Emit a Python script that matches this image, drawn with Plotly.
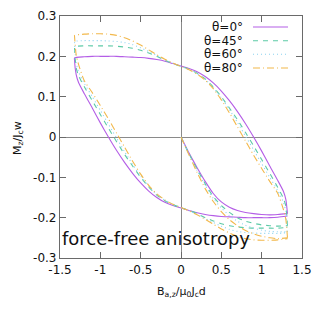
import plotly.graph_objects as go

# ---- data ----
labels = ["θ=0°", "θ=45°", "θ=60°", "θ=80°"]

# initial (virgin) curves, B from 0 to 1.32
init_B = [0, 0.1, 0.2, 0.3, 0.4, 0.5, 0.6, 0.7, 0.8, 0.9, 1.0, 1.1, 1.2, 1.32]
init_M0 = [0, -0.040, -0.076, -0.110, -0.140, -0.161, -0.174, -0.182, -0.187, -0.190, -0.192, -0.193, -0.192, -0.190]
init_M45 = [0, -0.042, -0.080, -0.116, -0.148, -0.170, -0.187, -0.200, -0.209, -0.214, -0.218, -0.220, -0.221, -0.220]
init_M60 = [0, -0.043, -0.083, -0.120, -0.152, -0.176, -0.195, -0.209, -0.219, -0.226, -0.231, -0.234, -0.235, -0.235]
init_M80 = [0, -0.045, -0.088, -0.128, -0.160, -0.185, -0.205, -0.220, -0.232, -0.240, -0.246, -0.250, -0.252, -0.250]

# descending branch (upper), B from 1.32 down to -1.32
desc_B = [1.32, 1.30, 1.27, 1.2, 1.1, 1.0, 0.9, 0.8, 0.7, 0.6, 0.5, 0.4, 0.3, 0.2, 0.1, 0,
          -0.1, -0.2, -0.3, -0.4, -0.5, -0.6, -0.7, -0.8, -0.9, -1.0, -1.1, -1.2, -1.32]
desc_M0 = [-0.190, -0.155, -0.135, -0.108, -0.072, -0.035, 0.000, 0.033, 0.063, 0.090, 0.114, 0.134, 0.150, 0.162, 0.170, 0.176,
           0.182, 0.188, 0.192, 0.195, 0.197, 0.198, 0.199, 0.200, 0.200, 0.200, 0.200, 0.199, 0.196]
desc_M45 = [-0.220, -0.172, -0.152, -0.125, -0.090, -0.056, -0.022, 0.011, 0.043, 0.072, 0.100, 0.124, 0.144, 0.158, 0.168, 0.175,
            0.182, 0.190, 0.200, 0.208, 0.215, 0.220, 0.223, 0.225, 0.226, 0.226, 0.226, 0.226, 0.224]
desc_M60 = [-0.235, -0.185, -0.162, -0.133, -0.100, -0.066, -0.032, 0.002, 0.036, 0.068, 0.097, 0.122, 0.143, 0.157, 0.167, 0.175,
            0.183, 0.192, 0.202, 0.212, 0.221, 0.229, 0.234, 0.237, 0.238, 0.239, 0.239, 0.239, 0.237]
desc_M80 = [-0.250, -0.205, -0.180, -0.140, -0.110, -0.078, -0.045, -0.010, 0.025, 0.060, 0.092, 0.120, 0.141, 0.156, 0.167, 0.175,
            0.183, 0.193, 0.204, 0.216, 0.228, 0.238, 0.246, 0.252, 0.255, 0.256, 0.256, 0.255, 0.252]

# ascending branch (lower), B from -1.32 up to 1.32
asc_B = [-1.32, -1.30, -1.27, -1.2, -1.1, -1.0, -0.9, -0.8, -0.7, -0.6, -0.5, -0.4, -0.3, -0.2, -0.1, 0,
         0.1, 0.2, 0.3, 0.4, 0.5, 0.6, 0.7, 0.8, 0.9, 1.0, 1.1, 1.2, 1.32]
asc_M0 = [0.190, 0.155, 0.135, 0.108, 0.072, 0.035, 0.000, -0.033, -0.063, -0.090, -0.114, -0.134, -0.150, -0.162, -0.170, -0.176,
          -0.182, -0.188, -0.192, -0.195, -0.197, -0.198, -0.199, -0.200, -0.200, -0.200, -0.200, -0.199, -0.196]
asc_M45 = [0.220, 0.172, 0.152, 0.125, 0.090, 0.056, 0.022, -0.011, -0.043, -0.072, -0.100, -0.124, -0.144, -0.158, -0.168, -0.175,
           -0.182, -0.190, -0.200, -0.208, -0.215, -0.220, -0.223, -0.225, -0.226, -0.226, -0.226, -0.226, -0.224]
asc_M60 = [0.235, 0.185, 0.162, 0.133, 0.100, 0.066, 0.032, -0.002, -0.036, -0.068, -0.097, -0.122, -0.143, -0.157, -0.167, -0.175,
           -0.183, -0.192, -0.202, -0.212, -0.221, -0.229, -0.234, -0.237, -0.238, -0.239, -0.239, -0.239, -0.237]
asc_M80 = [0.250, 0.205, 0.180, 0.140, 0.110, 0.078, 0.045, 0.010, -0.025, -0.060, -0.092, -0.120, -0.141, -0.156, -0.167, -0.175,
           -0.183, -0.193, -0.204, -0.216, -0.228, -0.238, -0.246, -0.252, -0.255, -0.256, -0.256, -0.255, -0.252]

x_ticks = [-1.5, -1, -0.5, 0, 0.5, 1, 1.5]
y_ticks = [-0.3, -0.2, -0.1, 0, 0.1, 0.2, 0.3]

# ---- styles ----
colors = ["#b45ee6", "#5ccaa6", "#8ad2f0", "#f2b84b"]
dashes = ["solid", "5px,5px", "1px,3px", "7px,3px,1px,3px"]
FONT = "DejaVu Sans"

inits = [init_M0, init_M45, init_M60, init_M80]
descs = [desc_M0, desc_M45, desc_M60, desc_M80]
ascs = [asc_M0, asc_M45, asc_M60, asc_M80]

fig = go.Figure()
for i in range(4):
    xs = list(init_B) + [None] + list(desc_B) + list(asc_B)
    ys = list(inits[i]) + [None] + list(descs[i]) + list(ascs[i])
    fig.add_trace(go.Scatter(x=xs, y=ys, mode="lines", name=labels[i],
                             line=dict(color=colors[i], width=1.1, dash=dashes[i], shape="spline", smoothing=0.6),
                             connectgaps=False, showlegend=False))

# page body has an 8px default margin: work in figure pixels = window pixels - 8
OFF = 8
W, H = 321 - 2 * OFF, 314 - 2 * OFF
PL, PR, PT, PB = 60 - OFF, 302 - OFF, 16 - OFF, 258 - OFF
def px2paper_x(px):
    return (px - OFF - PL) / (PR - PL)
def px2paper_y(py):
    return (PB - (py - OFF)) / (PB - PT)

# legend drawn gnuplot-style (text right-aligned, sample to the right); coords in window px
rows = [27, 40.7, 54.3, 68]
for i in range(4):
    fig.add_annotation(x=px2paper_x(245), y=px2paper_y(rows[i]), xref="paper", yref="paper",
                       text=labels[i], showarrow=False, xanchor="right", yanchor="middle",
                       font=dict(family=FONT, size=12, color="#111"))
    fig.add_shape(type="line", xref="paper", yref="paper",
                  x0=px2paper_x(253), x1=px2paper_x(288),
                  y0=px2paper_y(rows[i]), y1=px2paper_y(rows[i]),
                  line=dict(color=colors[i], width=1.1, dash=dashes[i]))

fig.add_annotation(x=px2paper_x(60), y=px2paper_y(238), xref="paper", yref="paper",
                   text="force-free anisotropy", showarrow=False, xanchor="left", yanchor="middle",
                   font=dict(family=FONT, size=18, color="#111"))

# axis titles
fig.add_annotation(x=px2paper_x(181), y=px2paper_y(292), xref="paper", yref="paper",
                   text="B<sub>a,z</sub>/μ<sub>0</sub>J<sub>c</sub>d", showarrow=False,
                   xanchor="center", yanchor="middle",
                   font=dict(family=FONT, size=11, color="#111"))
fig.add_annotation(x=px2paper_x(9), y=px2paper_y(138), xref="paper", yref="paper",
                   text="M<sub>z</sub>/J<sub>c</sub>w", showarrow=False, textangle=-90,
                   xanchor="left", yanchor="middle",
                   font=dict(family=FONT, size=11, color="#111"))

axis_common = dict(showgrid=False, zeroline=True, zerolinecolor="#8a8a8a", zerolinewidth=1,
                   showline=True, linecolor="#6a6a6a", linewidth=1.2, mirror="allticks",
                   ticks="inside", ticklen=6, tickcolor="#6a6a6a", tickwidth=1, automargin=False,
                   tickfont=dict(family=FONT, size=12, color="#111"))

fig.update_layout(
    width=W, height=H,
    margin=dict(l=PL, r=W - PR, t=PT, b=H - PB, autoexpand=False),
    paper_bgcolor="white", plot_bgcolor="white",
    xaxis=dict(range=[-1.5, 1.5], tickvals=x_ticks, ticktext=[f"{v:g}" for v in x_ticks], **axis_common),
    yaxis=dict(range=[-0.3, 0.3], tickvals=y_ticks, ticktext=[f"{v:g}" for v in y_ticks], **axis_common),
    showlegend=False,
)

fig.write_html("out.html")
